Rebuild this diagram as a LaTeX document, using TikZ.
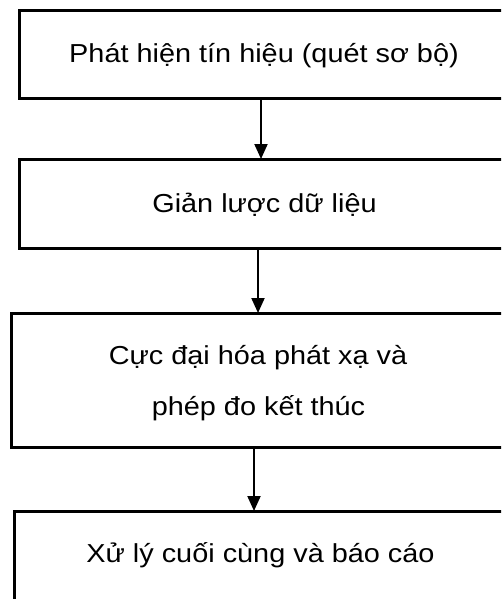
\documentclass[tikz,border=0pt]{standalone}
\usepackage{fontspec}
\setmainfont{Liberation Sans}[FakeStretch=1.11]
\usetikzlibrary{arrows.meta}
\tikzset{
  box/.style={draw=black, line width=3pt, rectangle, inner sep=0pt, outer sep=0pt, fill=none},
  lbl/.style={anchor=base, inner sep=0pt, font=\fontsize{26}{30}\selectfont},
  arr/.style={draw=black, line width=2pt, -{Triangle[width=13pt,length=15pt]}}
}
\begin{document}
\begin{tikzpicture}[x=1pt,y=-1pt]
\useasboundingbox (0,0) rectangle (501,599);
\clip (0,0) rectangle (501,599);
\node[box, minimum width=486pt, minimum height=88.3pt] (b1) at (262,54.65) {};
\node[box, minimum width=486pt, minimum height=89.5pt] (b2) at (262,203.75) {};
\node[box, minimum width=493.7pt, minimum height=134pt] (b3) at (258.15,380) {};
\node[box, minimum width=490.3pt, minimum height=89pt] (b4) at (259.85,555.5) {};
\node[lbl] (t1) at (264,63) {Phát hiện tín hiệu (quét sơ bộ)};
\node[lbl] (t2) at (264.5,212) {Giản lược dữ liệu};
\node[lbl] (t3a) at (258,364) {Cực đại hóa phát xạ và};
\node[lbl] (t3b) at (258.5,415) {phép đo kết thúc};
\node[lbl] (t4) at (260.5,562) {Xử lý cuối cùng và báo cáo};
\draw[arr] (b1.south -| 261,0) -- (b2.north -| 261,0);
\draw[arr] (b2.south -| 258,0) -- (b3.north -| 258,0);
\draw[arr] (b3.south -| 254,0) -- (b4.north -| 254,0);
\end{tikzpicture}
\end{document}
